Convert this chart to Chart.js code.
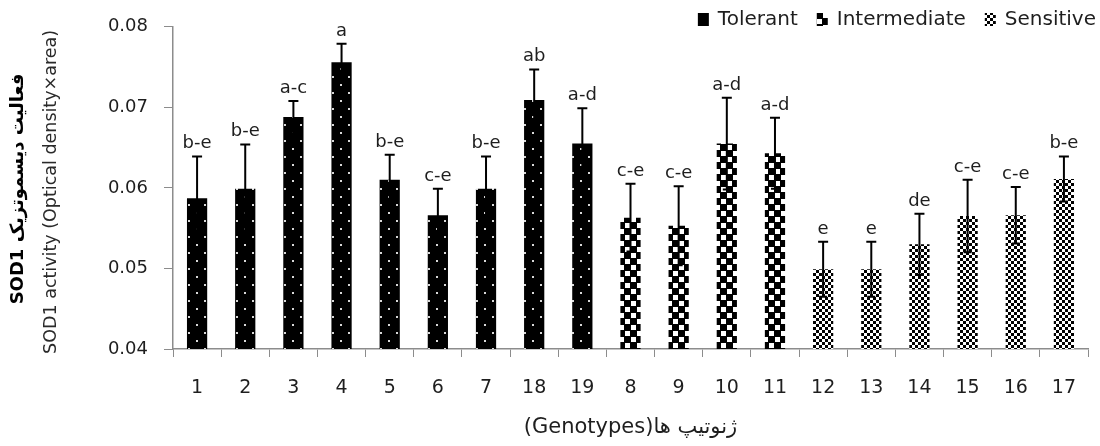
<!DOCTYPE html>
<html><head><meta charset="utf-8">
<script src="https://cdn.jsdelivr.net/npm/chart.js@4.4.1/dist/chart.umd.min.js"></script>
<style>html,body{margin:0;padding:0;background:#fff;}#wrap{width:1100px;height:446px;position:relative;}</style>
</head><body><div id="wrap"><canvas id="c" width="1100" height="446"></canvas></div>
<script>
// ---- data ----
const genotypes = ['1','2','3','4','5','6','7','18','19','8','9','10','11','12','13','14','15','16','17'];
const groupNames = ['Tolerant','Intermediate','Sensitive'];
const groupOf = [0,0,0,0,0,0,0,0,0,1,1,1,1,2,2,2,2,2,2];
const activity = [0.0587,0.0599,0.0688,0.0756,0.0610,0.0566,0.0599,0.0709,0.0655,0.0563,0.0553,0.0655,0.0643,0.0499,0.0499,0.0530,0.0565,0.0566,0.0611];
const stdError = [0.0052,0.0055,0.0020,0.0023,0.0031,0.0033,0.0040,0.0038,0.0044,0.0042,0.0049,0.0057,0.0044,0.0034,0.0034,0.0038,0.0045,0.0035,0.0028];
const letters = ['b-e','b-e','a-c','a','b-e','c-e','b-e','ab','a-d','c-e','c-e','a-d','a-d','e','e','de','c-e','c-e','b-e'];
const yTicks = [0.04,0.05,0.06,0.07,0.08];
const yTitleFa = 'SOD1 فعالیت دیسموتزیک';
const yTitleEn = 'SOD1 activity (Optical density×area)';
const xTitle = '(Genotypes)ژنوتیپ ها';

const FONT = "'DejaVu Sans', Verdana, sans-serif";
const TXT = '#1e1e1e';

function makePattern(kind){
  const c = document.createElement('canvas');
  const x = c.getContext('2d');
  if (kind === 0){
    c.width = 16; c.height = 16;
    x.fillStyle = '#000'; x.fillRect(0,0,16,16);
    x.fillStyle = '#d8d8d8'; x.fillRect(4,4,2,2); x.fillRect(12,12,2,2);
  } else if (kind === 1){
    c.width = 12; c.height = 12;
    x.fillStyle = '#000'; x.fillRect(0,0,12,12);
    x.fillStyle = '#fff'; x.fillRect(7,1,5,5); x.fillRect(1,7,5,5);
  } else {
    c.width = 6; c.height = 6;
    x.fillStyle = '#000'; x.fillRect(0,0,6,6);
    x.fillStyle = '#fff'; x.fillRect(3,0,3,3); x.fillRect(0,3,3,3);
  }
  return document.getElementById('c').getContext('2d').createPattern(c,'repeat');
}
const patterns = [makePattern(0), makePattern(1), makePattern(2)];

const datasets = groupNames.map((name,g)=>({
  label: name,
  data: activity.map((v,i)=> groupOf[i]===g ? v : null),
  errors: stdError.map((e,i)=> groupOf[i]===g ? e : null),
  letters: letters.map((t,i)=> groupOf[i]===g ? t : null),
  backgroundColor: patterns[g],
  borderWidth: 0,
  barPercentage: 0.42,
  categoryPercentage: 1.0
}));

const extrasPlugin = {
  id: 'extras',
  afterDatasetsDraw(chart){
    const ctx = chart.ctx, ys = chart.scales.y;
    ctx.save();
    chart.data.datasets.forEach((ds, di)=>{
      const meta = chart.getDatasetMeta(di);
      ds.data.forEach((v,i)=>{
        if (v === null) return;
        const el = meta.data[i];
        const e = ds.errors[i];
        const yT = ys.getPixelForValue(v + e);
        const yB = ys.getPixelForValue(v - e);
        ctx.strokeStyle = '#000'; ctx.lineWidth = 2;
        ctx.beginPath();
        ctx.moveTo(el.x, yT); ctx.lineTo(el.x, yB);
        ctx.moveTo(el.x-5, yT); ctx.lineTo(el.x+5, yT);
        ctx.moveTo(el.x-4, yB); ctx.lineTo(el.x+4, yB);
        ctx.stroke();
        ctx.fillStyle = TXT;
        ctx.font = "18px " + FONT;
        ctx.textAlign = 'center'; ctx.textBaseline = 'alphabetic';
        ctx.fillText(ds.letters[i], el.x, yT - 8);
      });
    });
    ctx.restore();
  },
  afterDraw(chart){
    const ctx = chart.ctx;
    ctx.save();
    const cy = (chart.chartArea.top + chart.chartArea.bottom)/2;
    ctx.translate(18, cy + 1);
    ctx.rotate(-Math.PI/2);
    ctx.textAlign = 'center'; ctx.textBaseline = 'middle';
    ctx.fillStyle = '#000';
    ctx.font = "bold 18px " + FONT;
    ctx.fillText(yTitleFa, 0, 0);
    ctx.restore();
    ctx.save();
    ctx.translate(51, cy + 4);
    ctx.rotate(-Math.PI/2);
    ctx.textAlign = 'center'; ctx.textBaseline = 'middle';
    ctx.fillStyle = '#2a2a2a';
    ctx.font = "17.5px " + FONT;
    ctx.fillText(yTitleEn, 0, 0);
    ctx.restore();
    // legend
    ctx.save();
    ctx.font = "20px " + FONT;
    ctx.textBaseline = 'middle'; ctx.textAlign = 'left';
    let right = 1096;
    const ly = 20;
    for (let g = groupNames.length-1; g >= 0; g--){
      const w = ctx.measureText(groupNames[g]).width;
      const tx = right - w;
      ctx.fillStyle = TXT;
      ctx.fillText(groupNames[g], tx, ly);
      const ix = tx - 9 - 11;
      ctx.fillStyle = g === 0 ? '#000' : patterns[g];
      ctx.fillRect(ix, ly - 7, 11, 13);
      right = ix - 19;
    }
    ctx.restore();
  }
};

new Chart(document.getElementById('c'), {
  type: 'bar',
  data: { labels: genotypes, datasets },
  options: {
    responsive: false,
    animation: false,
    layout: { padding: { top: 26, right: 12, left: 0, bottom: 0 } },
    plugins: { legend: { display: false }, tooltip: { enabled: false } },
    scales: {
      x: {
        stacked: true,
        grid: { display: true, drawOnChartArea: false, drawTicks: true, tickLength: 8, color: '#8c8c8c', offset: true },
        border: { display: true, color: '#8c8c8c', width: 1.5 },
        ticks: { color: TXT, font: { family: FONT, size: 19 }, padding: 20, maxRotation: 0, autoSkip: false },
        title: { display: true, text: xTitle, color: TXT, font: { family: FONT, size: 21 }, padding: { top: 0, bottom: 6 } },
        afterFit(s){ s.height = 97; }
      },
      y: {
        min: 0.04, max: 0.08,
        afterBuildTicks(s){ s.ticks = yTicks.map(v=>({value:v})); },
        grid: { display: true, drawOnChartArea: false, drawTicks: true, tickLength: 9, color: '#8c8c8c' },
        border: { display: true, color: '#8c8c8c', width: 1.5 },
        ticks: { color: TXT, font: { family: FONT, size: 18 }, padding: 16, callback: v => v.toFixed(2) },
        afterFit(s){ s.width = 173; }
      }
    }
  },
  plugins: [extrasPlugin]
});
</script></body></html>
